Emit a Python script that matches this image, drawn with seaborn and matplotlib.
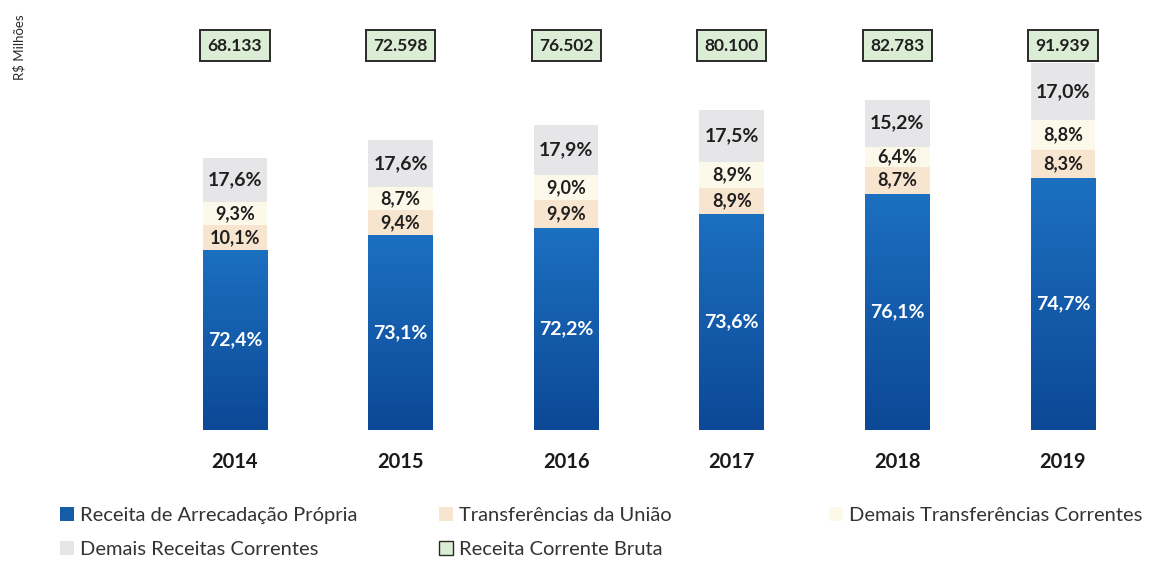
import numpy as np
import pandas as pd
import seaborn as sns
import matplotlib.pyplot as plt
from matplotlib.patches import Patch
from matplotlib.colors import LinearSegmentedColormap

years = ["2014", "2015", "2016", "2017", "2018", "2019"]
totals = [68133, 72598, 76502, 80100, 82783, 91939]
total_labels = ["68.133", "72.598", "76.502", "80.100", "82.783", "91.939"]
propria = [72.4, 73.1, 72.2, 73.6, 76.1, 74.7]
uniao = [10.1, 9.4, 9.9, 8.9, 8.7, 8.3]
demais_transf = [9.3, 8.7, 9.0, 8.9, 6.4, 8.8]
demais_rec = [17.6, 17.6, 17.9, 17.5, 15.2, 17.0]

C_BLUE = "#165ca9"
C_BLUE_TOP = "#1c70c0"
C_BLUE_BOT = "#0c4896"
C_BEIGE = "#f8e5cf"
C_CREAM = "#fcf9ea"
C_GRAY = "#e6e6e9"
C_GREEN = "#dcedd5"

df = pd.DataFrame({
    "year": years, "total": totals,
    "propria": propria, "uniao": uniao,
    "demais_transf": demais_transf, "demais_rec": demais_rec,
})
pct_cols = ["propria", "uniao", "demais_transf", "demais_rec"]
psum = df[pct_cols].sum(axis=1)
for c in pct_cols:
    df[c + "_v"] = df["total"] * df[c] / psum
df["c1"] = df["propria_v"]
df["c2"] = df["c1"] + df["uniao_v"]
df["c3"] = df["c2"] + df["demais_transf_v"]
df["c4"] = df["total"]

sns.set_style("white")
plt.rcParams["font.family"] = ["Lato", "DejaVu Sans"]

fig = plt.figure(figsize=(11.5, 5.61), dpi=100)
ax = fig.add_axes([0.1323, 0.2335, 0.864, 0.713])

W = 0.39
for col, color in [("c4", C_GRAY), ("c3", C_CREAM), ("c2", C_BEIGE), ("c1", C_BLUE)]:
    sns.barplot(data=df, x="year", y=col, color=color, width=W,
                saturation=1, ax=ax, linewidth=0)

# vertical gradient on the blue bars
cmap = LinearSegmentedColormap.from_list("blu", [C_BLUE_BOT, C_BLUE_TOP])
grad = np.linspace(0, 1, 256).reshape(-1, 1)
for p in ax.patches[-len(years):]:
    x0, y0 = p.get_x(), p.get_y()
    w, h = p.get_width(), p.get_height()
    im = ax.imshow(grad, cmap=cmap, origin="lower", aspect="auto",
                   extent=[x0, x0 + w, y0, y0 + h], zorder=p.get_zorder() + 0.1)
    im.set_clip_path(p)
ax.set_xlim(-0.5, 5.5)
ax.set_ylim(0, 100200)

sns.despine(ax=ax, left=True, bottom=True)
ax.set_yticks([])
ax.set_xlabel("")
ax.set_ylabel("")
ax.tick_params(axis="x", length=0, pad=16)
for lab in ax.get_xticklabels():
    lab.set_fontsize(14.5)
    lab.set_fontweight("bold")
    lab.set_color("#1a1a1a")

def fmt(v):
    return f"{v:.1f}".replace(".", ",") + "%"

for i, r in df.iterrows():
    ax.text(i, r["c1"] / 2, fmt(r["propria"]), ha="center", va="center",
            color="white", fontsize=14, fontweight="bold", zorder=5)
    ax.text(i, (r["c1"] + r["c2"]) / 2, fmt(r["uniao"]), ha="center", va="center",
            color="#1f1f1f", fontsize=13, fontweight="bold", zorder=5)
    ax.text(i, (r["c2"] + r["c3"]) / 2, fmt(r["demais_transf"]), ha="center", va="center",
            color="#1f1f1f", fontsize=13, fontweight="bold", zorder=5)
    ax.text(i, (r["c3"] + r["c4"]) / 2, fmt(r["demais_rec"]), ha="center", va="center",
            color="#1f1f1f", fontsize=14, fontweight="bold", zorder=5)
    ax.text(i, 96300, total_labels[i], ha="center", va="center",
            color="#1f1f1f", fontsize=12.5, fontweight="bold", zorder=5,
            bbox=dict(boxstyle="square,pad=0.42", fc=C_GREEN, ec="#2a2a2a", lw=1.4))

fig.text(0.017, 0.915, "R$ Milhões", rotation=90, ha="center", va="center",
         fontsize=9.5, color="#2a2a2a")

# legend: three columns placed separately
leg_kw = dict(loc="upper left", frameon=False, fontsize=14.5,
              handlelength=0.7, handleheight=0.7, handletextpad=0.3,
              labelspacing=0.85, borderaxespad=0, borderpad=0)
columns = [
    (0.052, [Patch(fc=C_BLUE, ec="none", label="Receita de Arrecadação Própria"),
             Patch(fc=C_GRAY, ec="none", label="Demais Receitas Correntes")]),
    (0.382, [Patch(fc=C_BEIGE, ec="none", label="Transferências da União"),
             Patch(fc=C_GREEN, ec="#2a2a2a", lw=1, label="Receita Corrente Bruta")]),
    (0.721, [Patch(fc=C_CREAM, ec="none", label="Demais Transferências Correntes")]),
]
for xpos, hs in columns:
    leg = fig.legend(handles=hs, bbox_to_anchor=(xpos, 0.097), **leg_kw)
    for t in leg.get_texts():
        t.set_color("#333333")

fig.savefig("out.png", dpi=100)
